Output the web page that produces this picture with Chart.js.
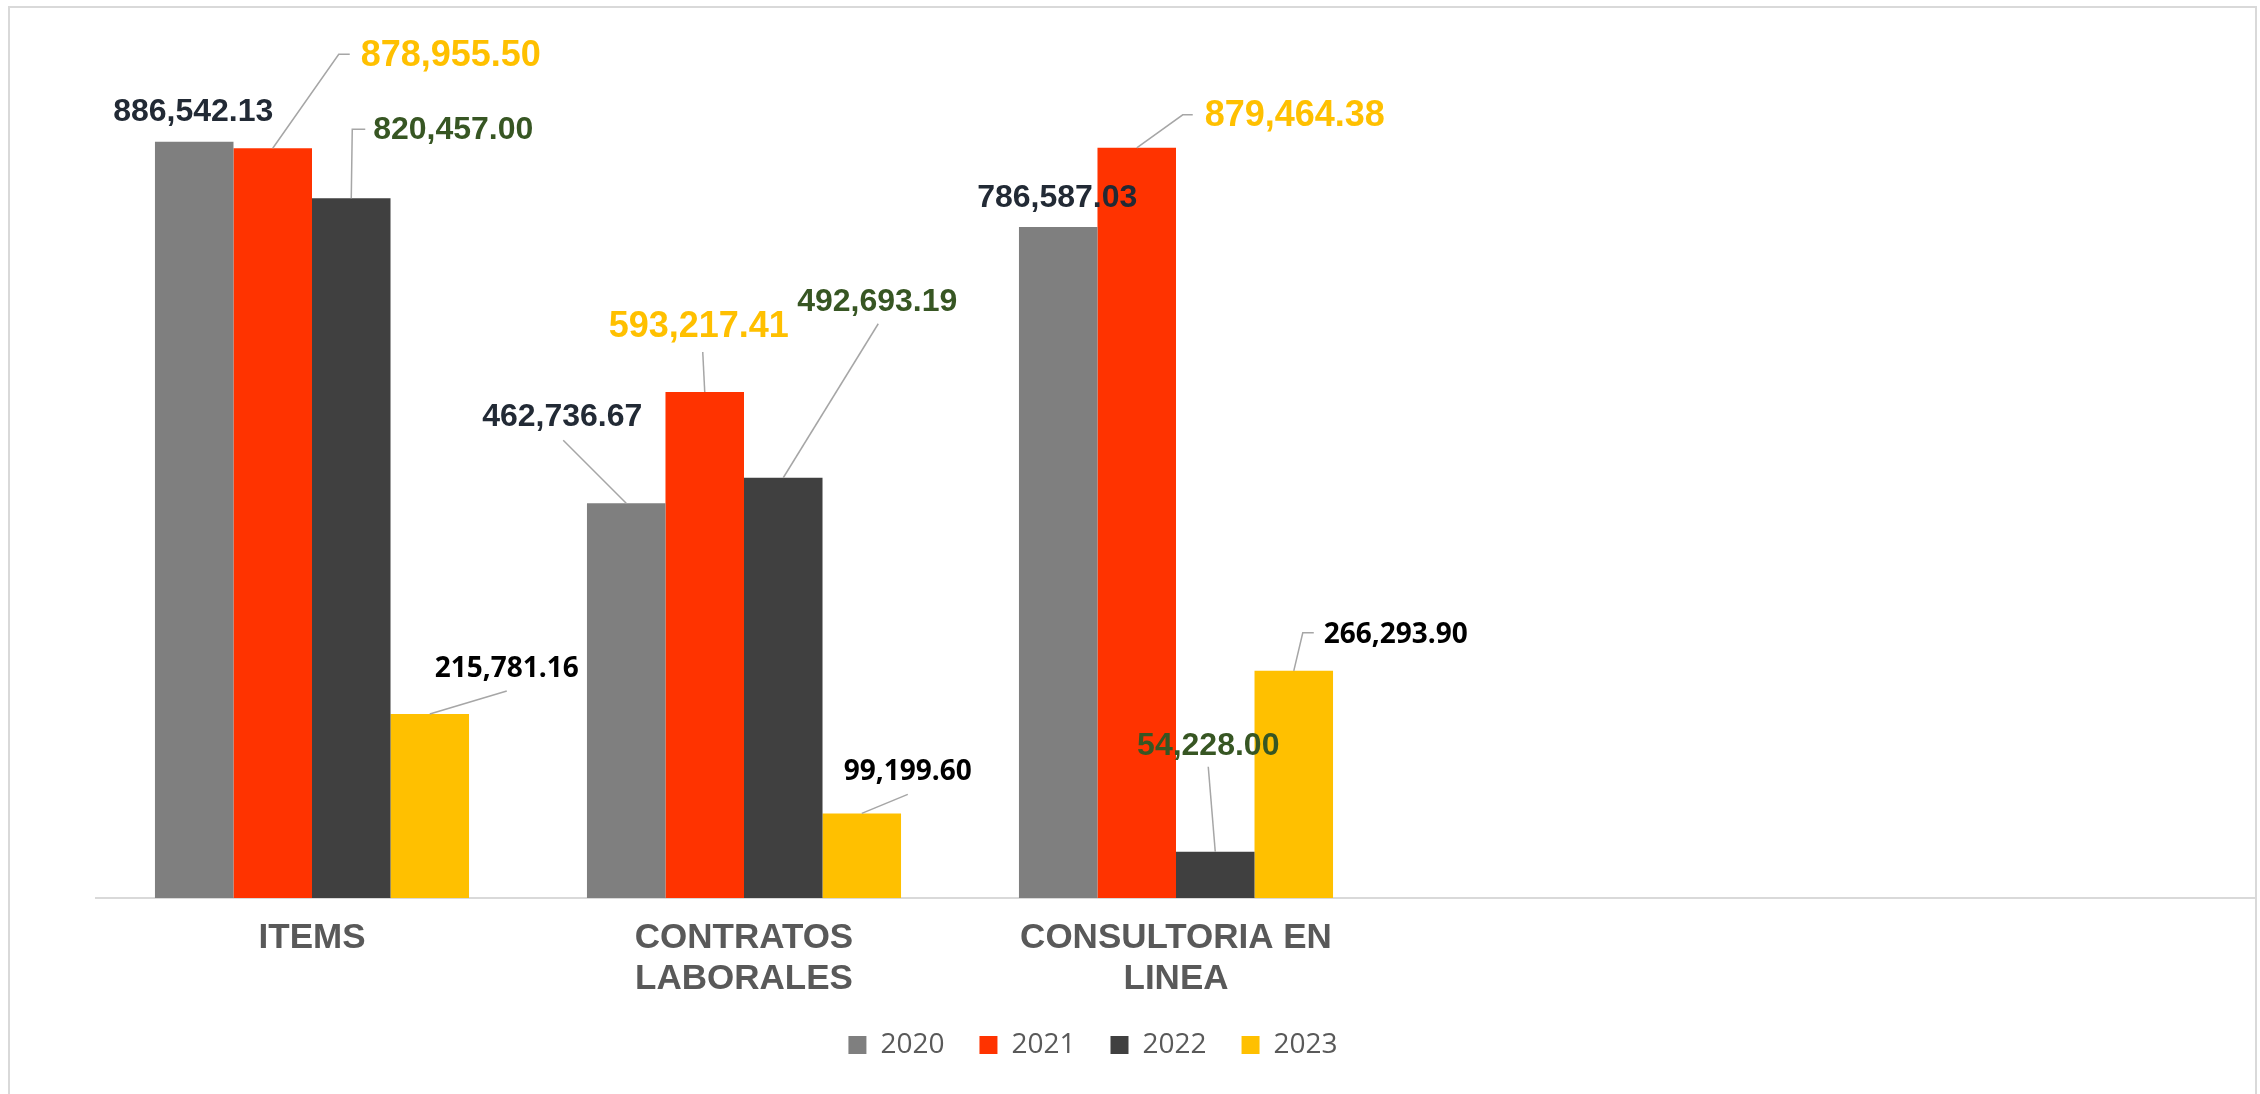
<!DOCTYPE html>
<html>
<head>
<meta charset="utf-8">
<script src="https://cdn.jsdelivr.net/npm/chart.js@4.4.1/dist/chart.umd.min.js"></script>
<style>
  html, body { margin: 0; padding: 0; background: #fff; }
  #wrap { width: 2260px; height: 1094px; }
</style>
</head>
<body>
<div id="wrap"><canvas id="chart"></canvas></div>
<script>
var categories = ['ITEMS', ['CONTRATOS', 'LABORALES'], ['CONSULTORIA EN', 'LINEA'], '', ''];
var years = ['2020', '2021', '2022', '2023'];
var values2020 = [886542.13, 462736.67, 786587.03];
var values2021 = [878955.50, 593217.41, 879464.38];
var values2022 = [820457.00, 492693.19, 54228.00];
var values2023 = [215781.16, 99199.60, 266293.90];
var yMax = 1000000;

var barColors = ['#7f7f7f', '#ff3300', '#404040', '#ffc000'];
var labelStyles = [
    { color: '#222a35', font: 'bold 32px "Liberation Sans", Arial, sans-serif' },
    { color: '#ffc000', font: 'bold 36px "Liberation Sans", Arial, sans-serif' },
    { color: '#375623', font: 'bold 32px "Liberation Sans", Arial, sans-serif' },
    { color: '#000000', font: 'bold 28px "Open Sans", sans-serif' }
];

// where each value label sits, measured from the top centre of its bar
var labelPlacement = [
    [{ dx: -1, dy: -30 },
     { dx: -64, dy: -86, line: [[0, 0], [-63, -63]] },
     { dx: -1, dy: -29 }],
    [{ dx: 178, dy: -92, line: [[0, 0], [66, -94], [77, -94]] },
     { dx: -6, dy: -65, line: [[0, 0], [-2, -40]] },
     { dx: 158, dy: -32, line: [[0, 0], [46, -33], [56, -33]] }],
    [{ dx: 102, dy: -68, line: [[0, 0], [1, -69], [14, -69]] },
     { dx: 94, dy: -176, line: [[0, 0], [95, -154]] },
     { dx: -7, dy: -106, line: [[0, 0], [-7, -85]] }],
    [{ dx: 77, dy: -45, line: [[0, 0], [77, -23]] },
     { dx: 46, dy: -41, line: [[0, 0], [46, -19]] },
     { dx: 102, dy: -36, line: [[0, 0], [9, -38], [20, -38]] }]
];

var seriesValues = [values2020, values2021, values2022, values2023];

var frame = {
    id: 'frame',
    beforeDraw: function (chart) {
        var ctx = chart.ctx;
        ctx.save();
        ctx.fillStyle = '#ffffff';
        ctx.fillRect(0, 0, chart.width, chart.height);
        ctx.strokeStyle = '#d9d9d9';
        ctx.lineWidth = 2;
        ctx.strokeRect(9, 7, 2247, 1100);
        ctx.restore();
    },
    afterLayout: function (chart) {
        // legend sits a little left of the chart centre
        chart.legend.left -= 83;
        chart.legend.right -= 83;
    }
};

var valueLabels = {
    id: 'valueLabels',
    afterDatasetsDraw: function (chart) {
        var ctx = chart.ctx;
        ctx.save();
        chart.data.datasets.forEach(function (ds, i) {
            var meta = chart.getDatasetMeta(i);
            meta.data.forEach(function (bar, j) {
                var p = labelPlacement[i][j];
                if (!p) return;
                if (p.line) {
                    ctx.beginPath();
                    ctx.strokeStyle = '#a6a6a6';
                    ctx.lineWidth = 1.5;
                    p.line.forEach(function (pt, k) {
                        if (k === 0) ctx.moveTo(bar.x + pt[0], bar.y + pt[1]);
                        else ctx.lineTo(bar.x + pt[0], bar.y + pt[1]);
                    });
                    ctx.stroke();
                }
                var txt = ds.data[j].toLocaleString('en-US', { minimumFractionDigits: 2, maximumFractionDigits: 2 });
                ctx.font = labelStyles[i].font;
                ctx.fillStyle = labelStyles[i].color;
                ctx.textAlign = 'center';
                ctx.textBaseline = 'middle';
                ctx.fillText(txt, bar.x + p.dx, bar.y + p.dy);
            });
        });
        ctx.restore();
    }
};

var ctx = document.getElementById('chart').getContext('2d');
var chart = new Chart(ctx, {
    type: 'bar',
    data: {
        labels: categories,
        datasets: years.map(function (y, i) {
            return {
                label: y,
                data: seriesValues[i],
                backgroundColor: barColors[i],
                borderWidth: 0,
                categoryPercentage: 0.727,
                barPercentage: 1
            };
        })
    },
    options: {
        responsive: true,
        maintainAspectRatio: false,
        animation: false,
        layout: {
            padding: { top: 45, left: 96, right: 4, bottom: 25 }
        },
        plugins: {
            tooltip: { enabled: false },
            legend: {
                position: 'bottom',
                labels: {
                    boxWidth: 18,
                    boxHeight: 18,
                    padding: 35,
                    color: '#595959',
                    font: { family: '"Open Sans", sans-serif', size: 28 }
                }
            }
        },
        scales: {
            x: {
                grid: { display: false, drawTicks: false },
                border: { display: true, color: '#d9d9d9', width: 2 },
                ticks: {
                    padding: 20,
                    maxRotation: 0,
                    autoSkip: false,
                    color: '#595959',
                    font: { family: '"Liberation Sans", Arial, sans-serif', size: 35, weight: 'bold', lineHeight: 1.17 }
                },
                afterFit: function (scale) { scale.height = 98; }
            },
            y: {
                display: false,
                min: 0,
                max: yMax
            }
        }
    },
    plugins: [frame, valueLabels]
});
</script>
</body>
</html>
